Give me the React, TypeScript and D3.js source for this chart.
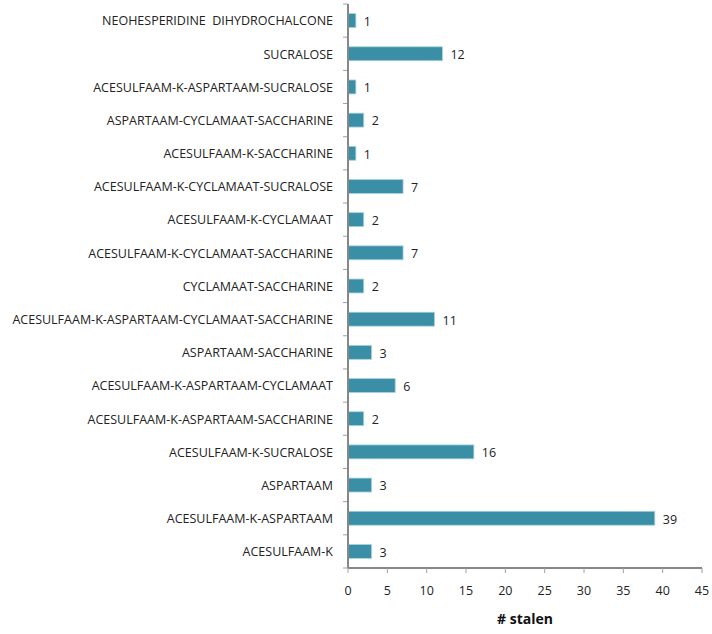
import React from "react";
import * as d3 from "d3";

const categories = [
  "NEOHESPERIDINE  DIHYDROCHALCONE",
  "SUCRALOSE",
  "ACESULFAAM-K-ASPARTAAM-SUCRALOSE",
  "ASPARTAAM-CYCLAMAAT-SACCHARINE",
  "ACESULFAAM-K-SACCHARINE",
  "ACESULFAAM-K-CYCLAMAAT-SUCRALOSE",
  "ACESULFAAM-K-CYCLAMAAT",
  "ACESULFAAM-K-CYCLAMAAT-SACCHARINE",
  "CYCLAMAAT-SACCHARINE",
  "ACESULFAAM-K-ASPARTAAM-CYCLAMAAT-SACCHARINE",
  "ASPARTAAM-SACCHARINE",
  "ACESULFAAM-K-ASPARTAAM-CYCLAMAAT",
  "ACESULFAAM-K-ASPARTAAM-SACCHARINE",
  "ACESULFAAM-K-SUCRALOSE",
  "ASPARTAAM",
  "ACESULFAAM-K-ASPARTAAM",
  "ACESULFAAM-K",
];
const counts = [1, 12, 1, 2, 1, 7, 2, 7, 2, 11, 3, 6, 2, 16, 3, 39, 3];
const xTicks = [0, 5, 10, 15, 20, 25, 30, 35, 40, 45];
const xTitle = "# stalen";

const W = 712;
const H = 634;
const left = 348;
const right = 702;
const top = 4;
const bottom = 568;
const font = "'Open Sans', 'Liberation Sans', sans-serif";
const barColor = "#3a8fa7";
const axisColor = "#878787";

export default function App() {
  const x = d3.scaleLinear().domain([0, 45]).range([left, right]);
  const y = d3
    .scaleBand<string>()
    .domain(categories)
    .range([top, bottom])
    .paddingInner(0.58)
    .paddingOuter(0.29);
  const step = y.step();
  const bandEdges = d3.range(categories.length + 1).map((i) => top + i * step);

  return (
    <svg
      width={W}
      height={H}
      style={{ position: "absolute", left: 0, top: 0, background: "#fff" }}
      fontFamily={font}
    >
      {/* bars */}
      {categories.map((c, i) => (
        <rect
          key={c}
          x={x(0)}
          y={y(c)!}
          width={x(counts[i]) - x(0)}
          height={y.bandwidth()}
          fill={barColor}
          stroke="#a9d3de"
          strokeWidth={0.8}
        />
      ))}
      {/* value labels */}
      {categories.map((c, i) => (
        <text
          key={c + "-v"}
          x={x(counts[i]) + 8}
          y={y(c)! + y.bandwidth() / 2 + 2}
          dominantBaseline="middle"
          fontSize={12.5}
          fill="#222"
        >
          {counts[i]}
        </text>
      ))}
      {/* category labels */}
      {categories.map((c) => (
        <text
          key={c + "-l"}
          x={333}
          y={y(c)! + y.bandwidth() / 2 + 1.5}
          dominantBaseline="middle"
          textAnchor="end"
          fontSize={12.5}
          fill="#222"
          style={{ whiteSpace: "pre" }}
        >
          {c}
        </text>
      ))}
      {/* y axis */}
      {bandEdges.map((e, i) => (
        <line key={"yt" + i} x1={left - 5} x2={left} y1={e} y2={e} stroke="#a0a0a0" strokeWidth={1} />
      ))}
      <line x1={left} x2={left} y1={top} y2={bottom} stroke={axisColor} strokeWidth={2} />
      {/* x axis */}
      <line x1={left} x2={right} y1={bottom} y2={bottom} stroke={axisColor} strokeWidth={2} />
      {xTicks.map((t) => (
        <g key={"xt" + t}>
          <line x1={x(t)} x2={x(t)} y1={bottom} y2={bottom + 5} stroke="#a0a0a0" strokeWidth={1} />
          <text x={x(t)} y={592} textAnchor="middle" dominantBaseline="middle" fontSize={12.5} fill="#222">
            {t}
          </text>
        </g>
      ))}
      <text
        x={(left + right) / 2}
        y={620}
        textAnchor="middle"
        dominantBaseline="middle"
        fontSize={14}
        fontWeight="bold"
        fill="#111"
      >
        {xTitle}
      </text>
    </svg>
  );
}
